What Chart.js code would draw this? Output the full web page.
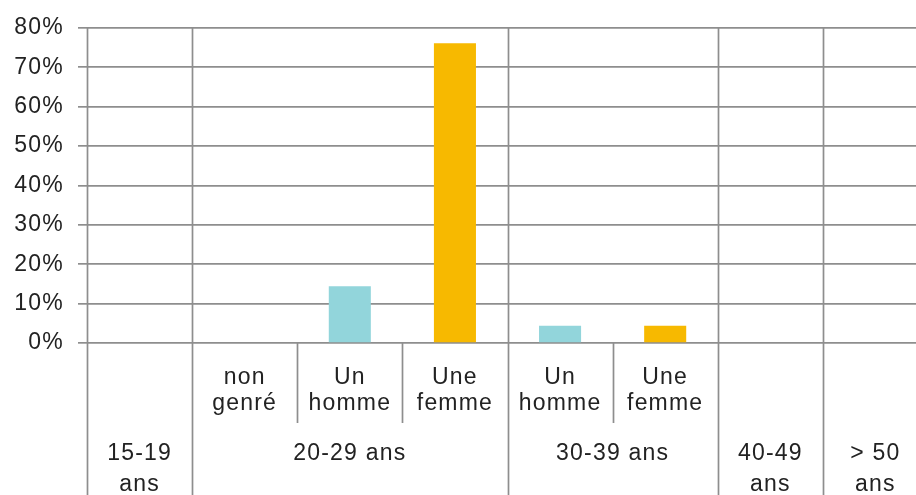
<!DOCTYPE html>
<html>
<head>
<meta charset="utf-8">
<script src="https://cdn.jsdelivr.net/npm/chart.js@4/dist/chart.umd.min.js"></script>
<style>
  html, body { margin: 0; padding: 0; background: #fff; overflow: hidden; }
  #wrap { position: relative; width: 935px; height: 495px; }
</style>
</head>
<body>
<div id="wrap"><canvas id="chart"></canvas></div>
<script>
// one slot per bar position, left to right
const slotKeys = ['15-19', 'non genré', 'Un homme 20-29', 'Une femme 20-29', 'Un homme 30-39', 'Une femme 30-39', '40-49', '> 50']
const subLabels = [[], ['non', 'genré'], ['Un', 'homme'], ['Une', 'femme'], ['Un', 'homme'], ['Une', 'femme'], [], []]
const groupLabels = [['15-19', 'ans'], ['20-29 ans'], ['30-39 ans'], ['40-49', 'ans'], ['> 50', 'ans']]
const groupSpans = [1, 3, 2, 1, 1]
const hommeValues = [null, null, 14.4, null, 4.4, null, null, null]
const femmeValues = [null, null, null, 76.1, null, 4.4, null, null]
const yTicks = [0, 10, 20, 30, 40, 50, 60, 70, 80]

const FONT = '23px "Liberation Sans", Arial, sans-serif'
const TEXT = '#222222'
const LINE = '#8e8e8e'

const axisLabels = {
  id: 'axisLabels',
  beforeDraw(chart) {
    chart.ctx.letterSpacing = '1.2px'
  },
  beforeDatasetsDraw(chart) {
    const { ctx, chartArea, scales: { x } } = chart
    const slot = x.width / slotKeys.length
    const edge = i => x.getPixelForValue(i) - slot / 2
    const bottom = chart.height

    ctx.save()
    ctx.strokeStyle = LINE
    ctx.lineWidth = 1.7

    // group separators: full height
    let start = 0
    const starts = []
    groupSpans.forEach(span => { starts.push(start); start += span })
    starts.forEach(i => {
      const px = Math.round(edge(i)) + 0.5
      ctx.beginPath()
      ctx.moveTo(px, chartArea.top)
      ctx.lineTo(px, bottom)
      ctx.stroke()
    })

    // separators between sub-categories, below the axis only
    starts.forEach((s, g) => {
      for (let k = 1; k < groupSpans[g]; k++) {
        const px = Math.round(edge(s + k)) + 0.5
        ctx.beginPath()
        ctx.moveTo(px, chartArea.bottom)
        ctx.lineTo(px, chartArea.bottom + 80)
        ctx.stroke()
      }
    })

    // text
    ctx.font = FONT
    ctx.fillStyle = TEXT
    ctx.textAlign = 'center'
    ctx.textBaseline = 'alphabetic'
    ctx.letterSpacing = '1.2px'
    const subBase = [chartArea.bottom + 41, chartArea.bottom + 67]
    subLabels.forEach((lines, i) => {
      const cx = x.getPixelForValue(i)
      lines.forEach((t, r) => ctx.fillText(t, cx, subBase[r]))
    })
    const groupBase = [chartArea.bottom + 117, chartArea.bottom + 148]
    starts.forEach((s, g) => {
      const cx = (edge(s) + edge(s + groupSpans[g])) / 2
      groupLabels[g].forEach((t, r) => ctx.fillText(t, cx, groupBase[r]))
    })
    ctx.restore()
  },
  afterDraw(chart) {
    chart.ctx.letterSpacing = '0px'
  }
}

new Chart(document.getElementById('chart'), {
  type: 'bar',
  data: {
    labels: slotKeys,
    datasets: [
      {
        label: 'Un homme',
        data: hommeValues,
        backgroundColor: '#92D5DB',
        skipNull: true,
      },
      {
        label: 'Une femme',
        data: femmeValues,
        backgroundColor: '#F7B900',
        skipNull: true,
      },
    ],
  },
  options: {
    responsive: true,
    maintainAspectRatio: false,
    animation: false,
    devicePixelRatio: 1,
    layout: { padding: { top: 27, right: 7, bottom: 152, left: 0 } },
    datasets: { bar: { categoryPercentage: 1, barPercentage: 0.4 } },
    plugins: { legend: { display: false }, tooltip: { enabled: false } },
    scales: {
      x: {
        display: false,
      },
      y: {
        min: 0,
        max: 80,
        afterBuildTicks: scale => { scale.ticks = yTicks.map(v => ({ value: v })) },
        afterFit: scale => { scale.width = 87 },
        border: { display: false },
        grid: { color: LINE, lineWidth: 1.7, tickLength: 9 },
        ticks: {
          padding: 14,
          color: TEXT,
          font: { family: '"Liberation Sans", Arial, sans-serif', size: 23 },
          callback: v => v + '%',
        },
      },
    },
  },
  plugins: [axisLabels],
})
</script>
</body>
</html>
